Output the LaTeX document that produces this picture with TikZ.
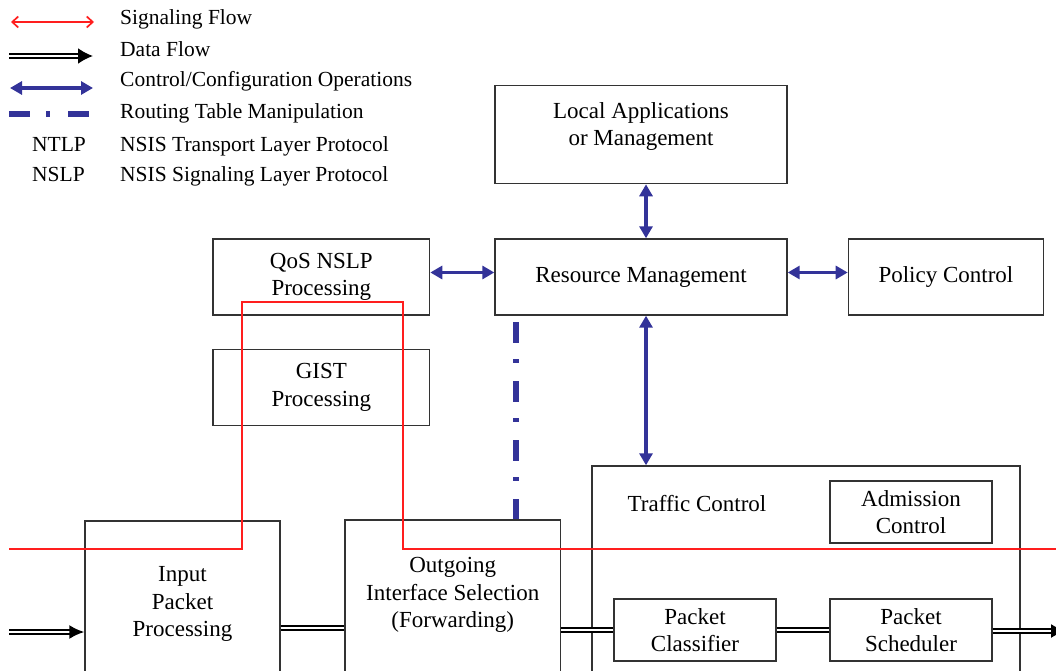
\documentclass[tikz,border=0pt]{standalone}
\usepackage{fontspec}
\setmainfont{Liberation Serif}
\usetikzlibrary{arrows.meta}
\usetikzlibrary{positioning}
\definecolor{ctrlblue}{RGB}{51,51,153}
\definecolor{sigred}{RGB}{255,30,30}
\newcommand{\boxfont}{\fontsize{23}{27.5}\selectfont}
\newcommand{\legfont}{\fontsize{21.5}{26}\selectfont}
\tikzstyle{box}=[rectangle, draw=black!80, line width=1.4pt, fill=white,
					align=center, font=\boxfont, inner sep=0pt]

\begin{document}
\begin{tikzpicture}[x=1pt, y=-1pt,
signal/.style={draw=sigred, line width=1.7pt},
dataflow/.style={draw=black, double=white, line width=2pt, double distance=1.6pt},
ctrl/.style={draw=ctrlblue, line width=3.5pt, {Triangle[length=12pt,width=13pt]}-{Triangle[length=12pt,width=13pt]}},
routing/.style={draw=ctrlblue, line width=5.5pt, dash pattern=on 21pt off 16pt on 4pt off 18pt},
legtext/.style={anchor=base west, font=\legfont, inner sep=0pt},
plaintext/.style={align=center, font=\boxfont, inner sep=0pt},
]
\useasboundingbox (0,0) rectangle (1056,671);
\clip (0,0) rectangle (1056,671);

%Legend
\coordinate (leg_sig_a) at (11,22);  \coordinate (leg_sig_b) at (94,22);
\coordinate (leg_data_a) at (9,56);  \coordinate (leg_data_b) at (93,56);
\coordinate (leg_ctrl_a) at (10,88); \coordinate (leg_ctrl_b) at (93,88);
\coordinate (leg_rt_a) at (9,114);   \coordinate (leg_rt_b) at (90,114);
\draw[signal, {Straight Barb[length=6pt,width=11pt]}-{Straight Barb[length=6pt,width=11pt]}] (leg_sig_a) -- (leg_sig_b);
\draw[dataflow, -{Latex[length=15pt,width=16pt]}] (leg_data_a) -- (leg_data_b);
\draw[ctrl] (leg_ctrl_a) -- (leg_ctrl_b);
\draw[routing] (leg_rt_a) -- (leg_rt_b);
\node[legtext] (leg_sig)  at (120,25)  {Signaling Flow};
\node[legtext] (leg_data) at (120,57)  {Data Flow};
\node[legtext] (leg_ctrl) at (120,87)  {Control/Configuration Operations};
\node[legtext] (leg_rt)   at (120,119) {Routing Table Manipulation};
\node[legtext] (leg_ntlp_abbr) at (32,152) {NTLP};
\node[legtext] (leg_ntlp) at (120,152) {NSIS Transport Layer Protocol};
\node[legtext] (leg_nslp_abbr) at (32,181) {NSLP};
\node[legtext] (leg_nslp) at (120,181) {NSIS Signaling Layer Protocol};

%Nodes
\node[box, minimum width=292pt, minimum height=76pt] (resource) at (641,277) {Resource Management};
\node[box, minimum width=292pt, minimum height=98pt] (local) [above=54pt of resource] {};
\node[plaintext] (local_text) at (641,126.5) {Local Applications\\or Management};
\node[box, minimum width=195pt, minimum height=76pt] (policy) [right=60pt of resource] {Policy Control};
\node[box, minimum width=216.5pt, minimum height=76pt] (qos) [left=64pt of resource] {QoS NSLP\\Processing};
\node[box, minimum width=216.5pt, minimum height=76pt] (gist) [below=33pt of qos] {GIST\\Processing};

\node[box, minimum width=195pt, minimum height=166pt] (input) at (182.5,604) {Input\\Packet\\Processing};
\node[box, minimum width=215.5pt, minimum height=180pt] (outgoing) at (452.75,610) {};
\node[plaintext] (outgoing_text) at (452.75,595) {Outgoing\\Interface Selection\\(Forwarding)};

\node[box, minimum width=428pt, minimum height=240pt] (traffic) at (806,586) {};
\node[plaintext] (traffic_text) at (697,504) {Traffic Control};
\node[box, minimum width=162pt, minimum height=62pt] (admission) at (911,512) {Admission\\Control};
\node[box, minimum width=162pt, minimum height=62pt] (classifier) at (695,630) {Packet\\Classifier};
\node[box, minimum width=162pt, minimum height=62pt] (scheduler) at (911,630) {Packet\\Scheduler};

%Lines
\draw[ctrl] ([xshift=5pt]local.south) -- ([xshift=5pt]resource.north);
\draw[ctrl] ([yshift=4.5pt]qos.east) -- ([yshift=4.5pt]resource.west);
\draw[ctrl] ([yshift=4.5pt]resource.east) -- ([yshift=4.5pt]policy.west);
\draw[ctrl] ([xshift=5pt]resource.south) -- ([xshift=5pt]resource.south |- traffic.north);

\coordinate (rt_top) at (516,322);
\draw[routing] (rt_top) -- (rt_top |- outgoing.north);

\coordinate (data_in) at (9,632);
\coordinate (data_out) at (1066,631);
\draw[dataflow, -{Latex[length=15pt,width=14pt]}] (data_in) -- (data_in -| input.west);
\draw[dataflow] ([yshift=-24pt]input.east) -- ([yshift=-24pt]input.east -| outgoing.west);
\draw[dataflow] (classifier.west -| outgoing.east) -- (classifier.west);
\draw[dataflow] (classifier.east) -- (scheduler.west);
\draw[dataflow, -{Latex[length=15pt,width=14pt]}] (scheduler.east |- data_out) -- (data_out);

\coordinate (sig_in) at (9,549);
\coordinate (sig_up) at (242,302);
\coordinate (sig_down) at (403,302);
\coordinate (sig_out) at (1060,549);
\draw[signal] (sig_in) -| (sig_up) -- (sig_down) |- (sig_out);

\end{tikzpicture}
\end{document}
